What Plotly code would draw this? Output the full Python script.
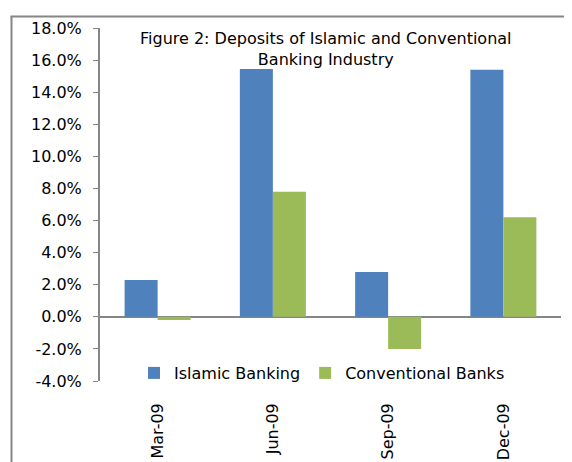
import plotly.graph_objects as go

categories = ["Mar-09", "Jun-09", "Sep-09", "Dec-09"]
islamic = [2.3, 15.45, 2.8, 15.4]
conventional = [-0.2, 7.8, -2.0, 6.2]
series_names = ["Islamic Banking", "Conventional Banks"]
y_tick_vals = [-4, -2, 0, 2, 4, 6, 8, 10, 12, 14, 16, 18]
y_tick_text = ["%.1f%%" % v for v in y_tick_vals]
title_text = "Figure 2: Deposits of Islamic and Conventional<br>Banking Industry"

BLUE = "#4F81BD"
GREEN = "#9BBB59"
AXIS = "#868686"
FONT = "DejaVu Sans"

# page is offset by the browser body margin (8px); plot area wanted at
# page x 100..561, y 28..381
PW, PH = 461, 353


def px(x):
    return (x - 100) / PW


def py(y):
    return (381 - y) / PH


fig = go.Figure()
fig.add_trace(go.Bar(x=categories, y=islamic, name=series_names[0],
                     marker=dict(color=BLUE, line=dict(width=0))))
fig.add_trace(go.Bar(x=categories, y=conventional, name=series_names[1],
                     marker=dict(color=GREEN, line=dict(width=0))))

fig.update_layout(
    width=572, height=462,
    margin=dict(l=92, r=19, t=20, b=89, pad=0, autoexpand=False),
    paper_bgcolor="white", plot_bgcolor="white",
    barmode="group", bargap=0.427, bargroupgap=0,
    font=dict(family=FONT, size=16, color="#000000"),
    showlegend=True,
    legend=dict(orientation="h", x=px(134), xanchor="left",
                y=py(373), yanchor="middle",
                bgcolor="rgba(0,0,0,0)", font=dict(size=16),
                itemwidth=30, traceorder="normal"),
    xaxis=dict(showline=False, showgrid=False, zeroline=False, ticks="",
               tickangle=-90, ticklabelstandoff=18, automargin=False,
               tickfont=dict(size=16)),
    yaxis=dict(range=[-4, 18], tickvals=y_tick_vals, ticktext=y_tick_text,
               showgrid=False, showline=True, linecolor=AXIS, linewidth=2,
               ticks="outside", ticklen=5, tickcolor=AXIS, tickwidth=1,
               ticklabelstandoff=8, automargin=False,
               zeroline=True, zerolinecolor=AXIS, zerolinewidth=2,
               tickfont=dict(size=16)),
    annotations=[dict(text=title_text, xref="paper", yref="paper",
                      x=px(326), y=py(27),
                      xanchor="center", yanchor="top", showarrow=False,
                      align="center", font=dict(size=16, family=FONT))],
    shapes=[
        dict(type="line", xref="paper", yref="paper",
             x0=px(11.5), x1=px(11.5), y0=py(16.5), y1=py(480),
             line=dict(color=AXIS, width=2)),
        dict(type="line", xref="paper", yref="paper",
             x0=px(10.5), x1=px(590), y0=py(16.5), y1=py(16.5),
             line=dict(color=AXIS, width=2)),
    ],
)

fig.write_html("out.html")
